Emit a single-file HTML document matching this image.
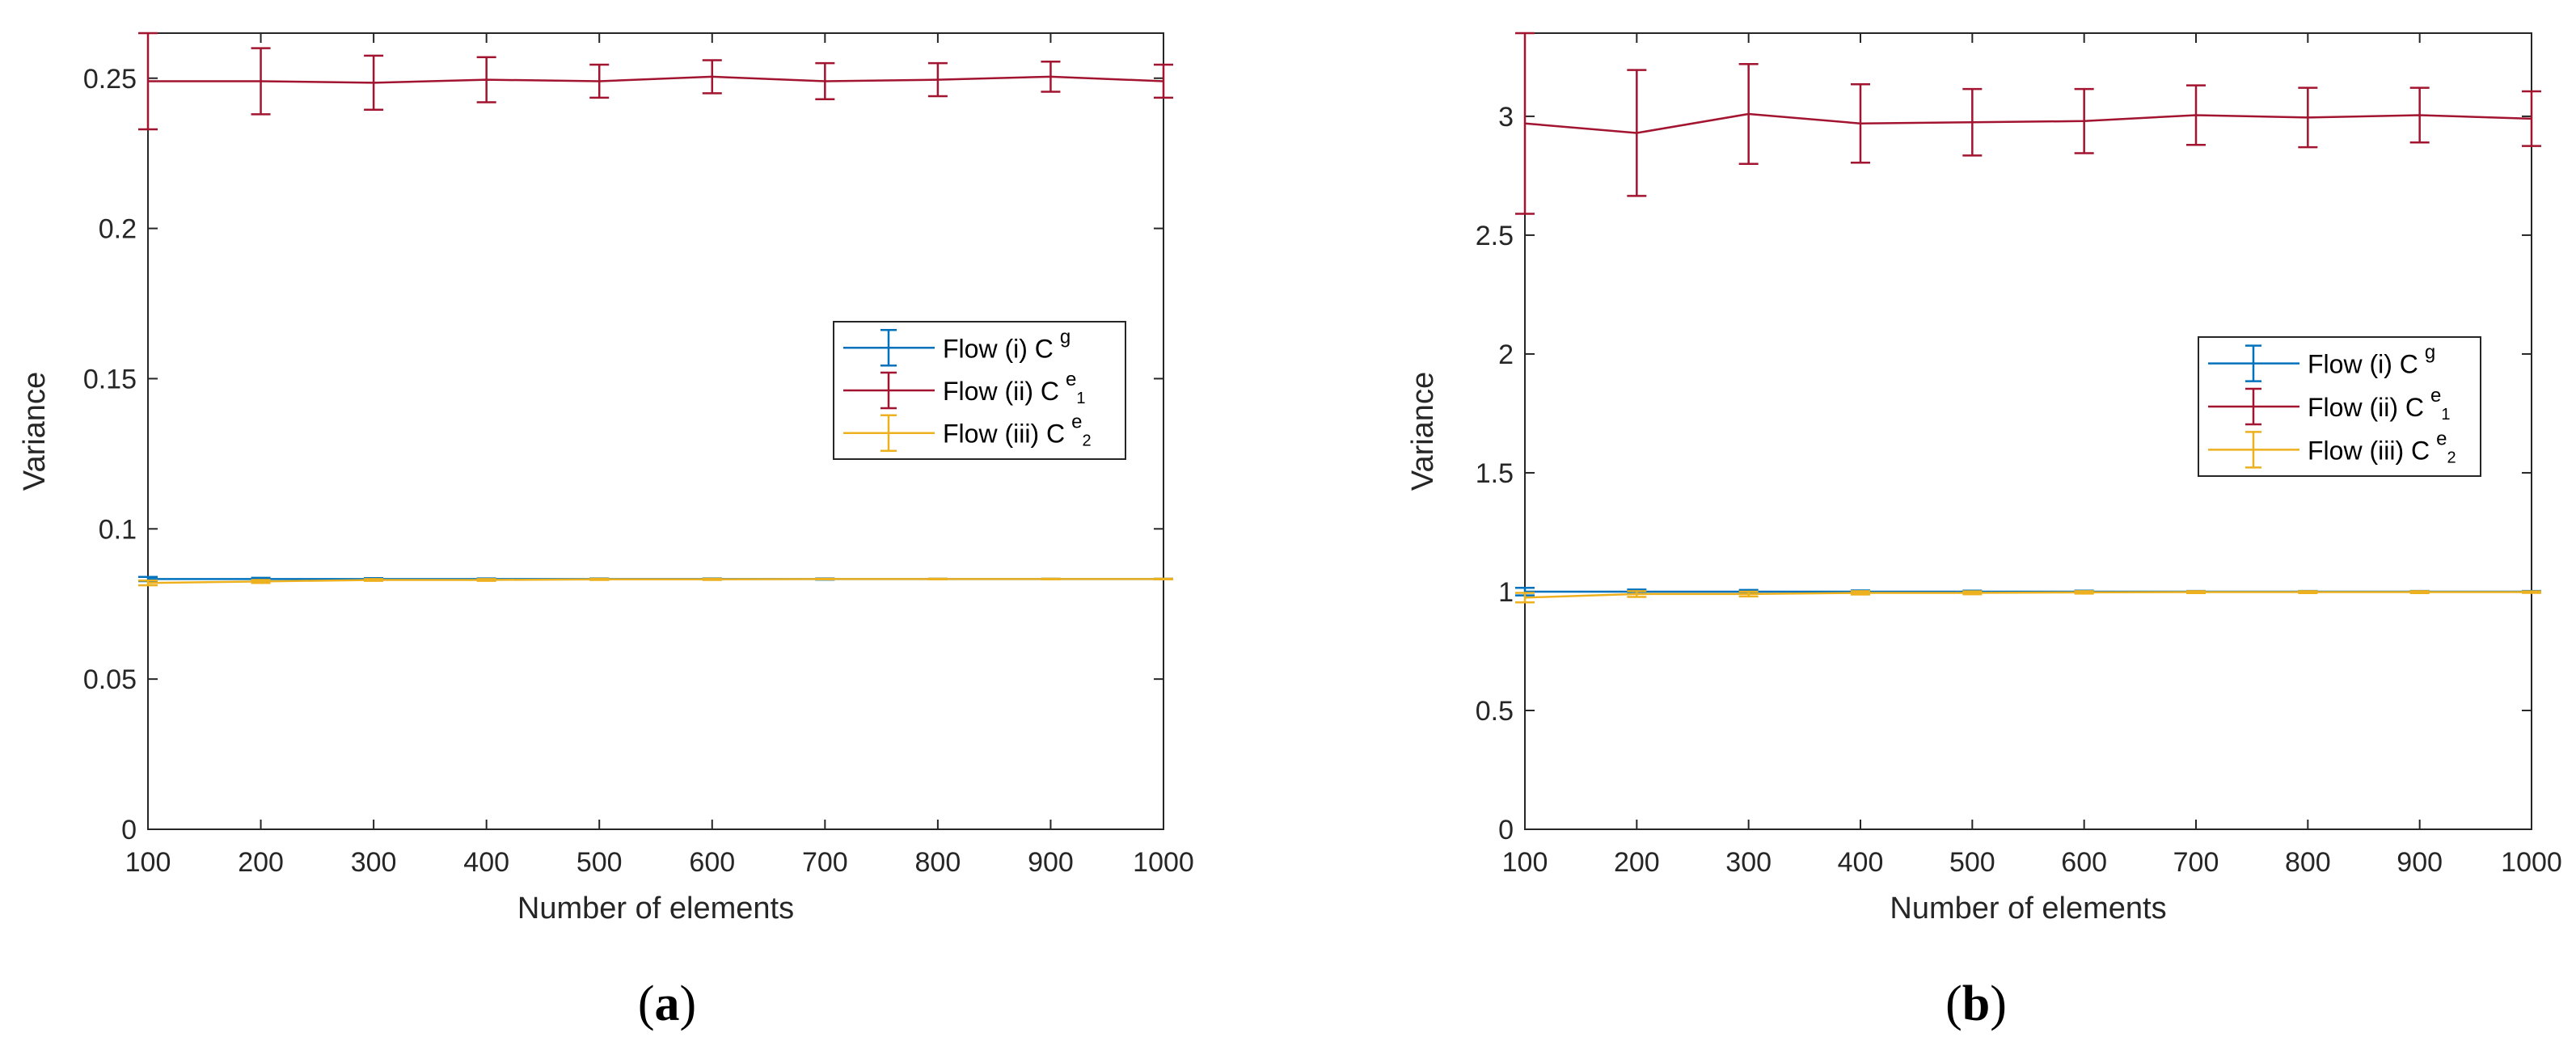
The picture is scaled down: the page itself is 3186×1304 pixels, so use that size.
<!DOCTYPE html>
<html><head><meta charset="utf-8"><style>
html,body{margin:0;padding:0;background:#fff;}
svg{display:block;font-family:"Liberation Sans",sans-serif;}
</style></head><body>
<svg id="fig" width="3186" height="1304" viewBox="0 0 3186 1304"></svg>
<script>
const xCats=[100,200,300,400,500,600,700,800,900,1000];
const aRed=[0.249,0.249,0.2485,0.2495,0.249,0.2505,0.249,0.2495,0.2505,0.249];
const aRedErr=[0.016,0.011,0.009,0.0075,0.0055,0.0055,0.006,0.0055,0.005,0.0055];
const aBlue=[0.0833,0.0833,0.0833,0.0833,0.0833,0.0833,0.0833,0.0833,0.0833,0.0833];
const aBlueErr=[0.0007,0.0004,0.0003,0.0002,0.0002,0.0002,0.0002,0.0001,0.0001,0.0001];
const aYel=[0.082,0.0825,0.083,0.083,0.0832,0.0832,0.0833,0.0833,0.0833,0.0833];
const aYelErr=[0.0008,0.0005,0.0003,0.0003,0.0002,0.0002,0.0001,0.0001,0.0001,0.0001];
const bRed=[2.97,2.93,3.01,2.97,2.975,2.98,3.005,2.995,3.005,2.99];
const bRedErr=[0.38,0.265,0.21,0.165,0.14,0.135,0.125,0.125,0.115,0.115];
const bBlue=[1.0,1.0,1.0,1.0,1.0,1.0,1.0,1.0,1.0,1.0];
const bBlueErr=[0.016,0.009,0.007,0.005,0.004,0.004,0.003,0.003,0.003,0.003];
const bYel=[0.975,0.99,0.99,0.995,0.995,0.997,0.998,0.998,0.998,0.998];
const bYelErr=[0.02,0.012,0.01,0.007,0.006,0.005,0.004,0.004,0.004,0.003];
const aTicks=[0,0.05,0.1,0.15,0.2,0.25];
const aTickLabels=["0","0.05","0.1","0.15","0.2","0.25"];
const bTicks=[0,0.5,1,1.5,2,2.5,3];
const bTickLabels=["0","0.5","1","1.5","2","2.5","3"];
const NS="http://www.w3.org/2000/svg";
const svg=document.getElementById('fig');
function mk(tag,attrs,parent,text){const e=document.createElementNS(NS,tag);for(const k in attrs)e.setAttribute(k,attrs[k]);if(text!==undefined)e.textContent=text;(parent||svg).appendChild(e);return e;}
const C={blue:"#0072BD",red:"#A2142F",yel:"#EDB120"};
function panel(o){
  const g=mk('g',{});
  
  
  const X=v=>o.L+(v-100)/900*(o.R-o.L);
  const Y=v=>o.B-v/o.ymax*(o.B-o.T);
  const ax=mk('rect',{x:o.L,y:o.T,width:o.R-o.L,height:o.B-o.T,fill:'none',stroke:'#262626','stroke-width':2},g);
  
  
  xCats.forEach(v=>{
    mk('line',{x1:X(v),x2:X(v),y1:o.B,y2:o.B-12,stroke:'#262626','stroke-width':2},g);
    mk('line',{x1:X(v),x2:X(v),y1:o.T,y2:o.T+12,stroke:'#262626','stroke-width':2},g);
    const t=mk('text',{x:X(v),y:o.B+52,'text-anchor':'middle','font-size':34,fill:'#262626'},g,String(v));
    
    
  });
  o.ticks.forEach((v,i)=>{
    mk('line',{x1:o.L,x2:o.L+12,y1:Y(v),y2:Y(v),stroke:'#262626','stroke-width':2},g);
    mk('line',{x1:o.R,x2:o.R-12,y1:Y(v),y2:Y(v),stroke:'#262626','stroke-width':2},g);
    const t=mk('text',{x:o.L-14,y:Y(v)+12,'text-anchor':'end','font-size':34,fill:'#262626'},g,o.tickLabels[i]);
    
    
  });
  const xl=mk('text',{x:(o.L+o.R)/2,y:o.B+110,'text-anchor':'middle','font-size':38,fill:'#262626'},g,'Number of elements');
  
  
  const yl=mk('text',{x:0,y:0,'text-anchor':'middle','font-size':38,fill:'#262626',transform:`translate(${o.yLabX},${(o.T+o.B)/2}) rotate(-90)`},g,'Variance');
  
  
  const series=[[o.blue,o.blueErr,C.blue,'series-flow-i'],[o.red,o.redErr,C.red,'series-flow-ii'],[o.yel,o.yelErr,C.yel,'series-flow-iii']];
  series.forEach(([vals,errs,col,nm])=>{
    const sg=mk('g',{},g);
    
    
    const pts=xCats.map((x,i)=>X(x)+','+Y(vals[i])).join(' ');
    mk('polyline',{points:pts,fill:'none',stroke:col,'stroke-width':2.5},sg);
    xCats.forEach((x,i)=>{
      const cx=X(x),t=Y(vals[i]+errs[i]),b=Y(vals[i]-errs[i]);
      const eb=mk('path',{d:`M${cx},${t}V${b}M${cx-12},${t}H${cx+12}M${cx-12},${b}H${cx+12}`,stroke:col,'stroke-width':2.5,fill:'none'},sg);
      
      
    });
  });
  const lg=mk('g',{},g);
  
  
  const [lx,ly,lw,lh]=o.leg;
  mk('rect',{x:lx,y:ly,width:lw,height:lh,fill:'#fff',stroke:'#262626','stroke-width':2},lg);
  const labels=[['Flow (i) C','g',''],['Flow (ii) C','e','1'],['Flow (iii) C','e','2']];
  [C.blue,C.red,C.yel].forEach((col,i)=>{
    const cy=ly+lh*(0.19+0.31*i);
    const e=mk('g',{},lg);
    
    
    mk('path',{d:`M${lx+12},${cy}H${lx+125}M${lx+68},${cy-22}V${cy+22}M${lx+58},${cy-22}H${lx+78}M${lx+58},${cy+22}H${lx+78}`,stroke:col,'stroke-width':2.5,fill:'none'},e);
    const t=mk('text',{x:lx+135,y:cy+12,'font-size':32,fill:'#000'},e,labels[i][0]);
    mk('tspan',{dx:8,dy:-18,'font-size':24},t,labels[i][1]);
    if(labels[i][2])mk('tspan',{dy:22,'font-size':20},t,labels[i][2]);
  });
  const cap=mk('text',{x:o.capX,y:1262,'text-anchor':'middle','font-size':62,'font-family':'"Liberation Serif",serif',fill:'#000'},g);
  
  
  mk('tspan',{},cap,'(');
  mk('tspan',{'font-weight':'bold'},cap,o.cap);
  mk('tspan',{},cap,')');
}
panel({name:'panel-a',L:183,R:1439,T:41,B:1026,ymax:0.265,ticks:aTicks,tickLabels:aTickLabels,yLabX:55,
  red:aRed,redErr:aRedErr,blue:aBlue,blueErr:aBlueErr,yel:aYel,yelErr:aYelErr,leg:[1031,398,361,170],capX:825,cap:'a'});
panel({name:'panel-b',L:1886,R:3131,T:41,B:1026,ymax:3.35,ticks:bTicks,tickLabels:bTickLabels,yLabX:1772,
  red:bRed,redErr:bRedErr,blue:bBlue,blueErr:bBlueErr,yel:bYel,yelErr:bYelErr,leg:[2719,417,349,172],capX:2444,cap:'b'});
</script>
</body></html>
